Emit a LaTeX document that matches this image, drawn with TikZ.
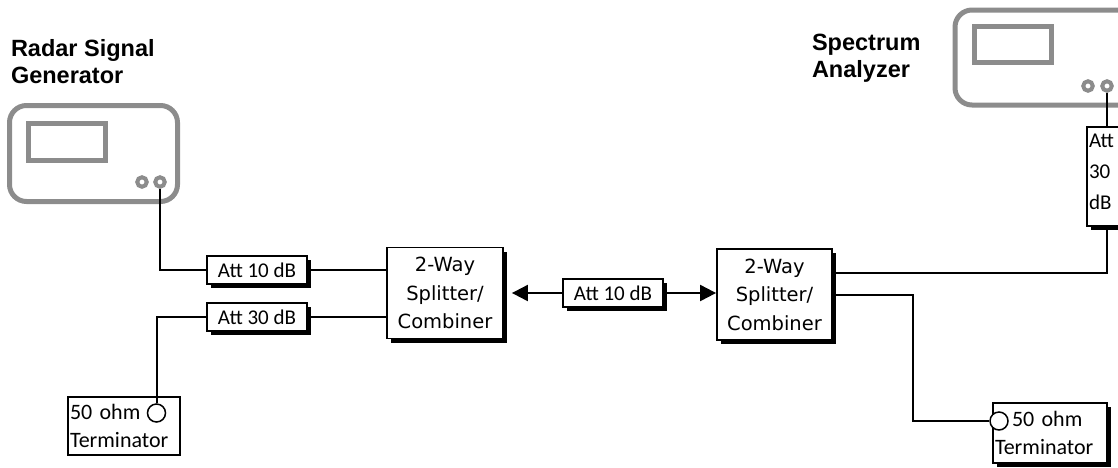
\documentclass[tikz,border=0pt]{standalone}
\usepackage{fontspec}
\setmainfont{Carlito}
\newfontfamily\labelfont{Liberation Sans}
\newfontfamily\splitfont{DejaVu Sans}
\usetikzlibrary{arrows.meta,shadows}

\begin{document}
\begin{tikzpicture}[x=1pt,y=-1pt,line width=2pt,
    sig arrow/.style={-{Triangle[length=16pt,width=16pt]}},
    instr node/.style={rectangle,draw=black!45,line width=5pt,rounded corners=17pt,minimum width=168pt,minimum height=96pt},
    screen node/.style={rectangle,draw=black!45,line width=5pt,minimum width=77pt,minimum height=37pt},
    port node/.style={circle,draw=black!45,line width=4pt,minimum size=9.5pt,inner sep=0pt},
    box shadow/.style={drop shadow={shadow xshift=4pt,shadow yshift=-4pt,fill=black,opacity=1}},
    att node/.style={rectangle,draw,line width=1.8pt,fill=white,minimum width=100pt,minimum height=28pt,inner sep=1pt,font=\fontsize{21}{25}\selectfont,box shadow},
    split node/.style={rectangle,draw,line width=1.8pt,fill=white,minimum width=116pt,minimum height=91pt,align=center,inner sep=1pt,font=\splitfont\fontsize{19.5}{28.5}\selectfont,box shadow},
    term node/.style={rectangle,draw,line width=1.3pt,fill=white,minimum height=58pt,text width=108pt,inner sep=2pt,align=left,font=\fontsize{22}{28}\selectfont},
    term port/.style={circle,draw,line width=1.5pt,fill=white,minimum size=18pt,inner sep=0pt},
    title node/.style={anchor=north west,inner sep=0pt,align=left,font=\labelfont\bfseries\fontsize{23.5}{27}\selectfont}]

	\useasboundingbox (0,0) rectangle (1118,467);

	% instruments
	\node[title node] (genlabel) at (10,38) {Radar Signal\\Generator};
	\node[instr node] (gen) at (93.5,153.5) {};
	\node[screen node] (genscr) at (67,141.5) {};
	\node[port node] (gp1) at (142,182) {};
	\node[port node] (gp2) at (160,182) {};

	\node[title node] (analabel) at (811,33) {Spectrum\\Analyzer};
	\node[instr node,minimum width=200pt,minimum height=95pt] (ana) at (1055,57.5) {};
	\node[screen node,minimum height=36pt] (anascr) at (1012.8,44.5) {};
	\node[port node] (ap1) at (1088,86) {};
	\node[port node] (ap2) at (1107,86) {};

	% attenuators and splitters
	\node[att node] (att1) at (257,270) {Att 10 dB};
	\node[att node] (att2) at (257,317) {Att 30 dB};
	\node[split node] (split1) at (445,293) {2-Way\\Splitter/\\Combiner};
	\node[att node] (att3) at (613,293) {Att 10 dB};
	\node[split node,minimum width=115pt] (split2) at (774.5,294.5) {2-Way\\Splitter/\\Combiner};
	\node[att node,minimum width=50pt,minimum height=99pt,text width=46pt,align=left,inner sep=2pt,font=\fontsize{21}{31}\selectfont] (att4) at (1112,176.5) {Att\\30\\dB\\[-22pt]\mbox{}};

	% terminators
	\node[term node] (term1) at (124,426) {50 ohm\\Terminator};
	\node[term port] (tc1) at (156.5,413) {};
	\node[term node,box shadow,minimum height=60pt,text width=110pt] (term2) at (1050,433) {\hspace*{17pt}50 ohm\\Terminator};
	\node[term port] (tc2) at (999,421) {};

	\draw (gp2.south) |- (att1.west);
	\draw (att1.east) -- (att1.east -| split1.west);
	\draw (tc1.north) |- (att2.west);
	\draw (att2.east) -- (att2.east -| split1.west);
	\draw[sig arrow,shorten >=8pt] (att3.west) -- (split1.east);
	\draw[sig arrow] (att3.east) -- (att3.east -| split2.west);
	\draw ([yshift=21.5pt]split2.east) -| (ap2 |- att4.south);
	\draw (ap2.south) -- (ap2 |- att4.north);
	\draw (split2.east) -- ++(80,0) |- (tc2.west);

\end{tikzpicture}
\end{document}
